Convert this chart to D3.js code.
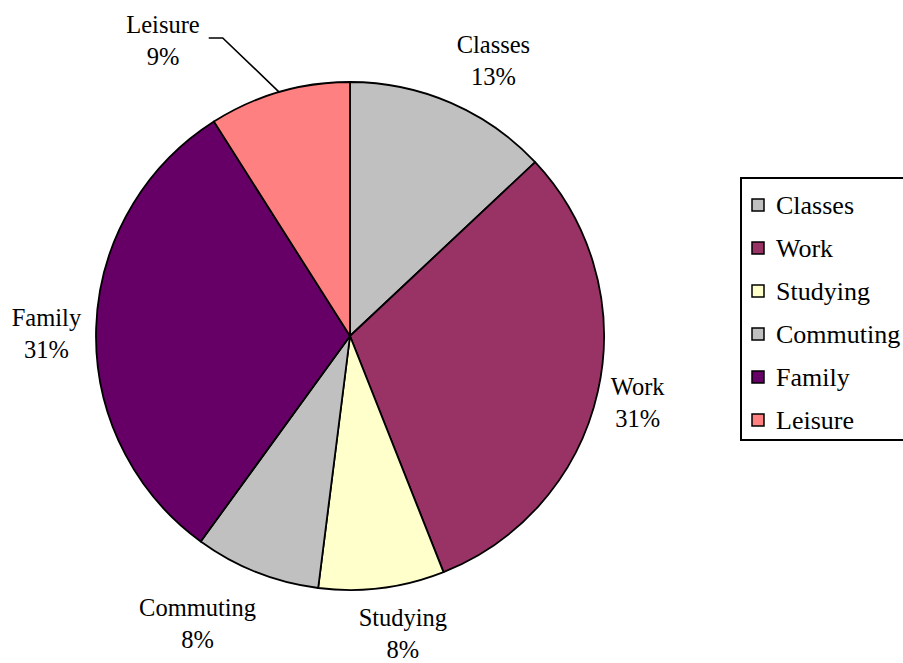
<!DOCTYPE html>
<html>
<head>
<meta charset="utf-8">
<script src="https://cdn.jsdelivr.net/npm/d3@7"></script>
</head>
<body style="margin:0">
<svg id="s" width="903" height="663"></svg>
<script>
// ---- data ----
const categories = ["Classes", "Work", "Studying", "Commuting", "Family", "Leisure"];
const values = [13, 31, 8, 8, 31, 9];
const colors = ["#C0C0C0", "#993366", "#FFFFCC", "#C0C0C0", "#660066", "#FF8080"];

// ---- layout ----
const cx = 350, cy = 336, R = 254;
const FONT = "\"Liberation Serif\"";
const labelFont = 24.5, lineGap = 32;
const legendFont = 26;

const svg = d3.select("#s");
const data = categories.map((c, i) => ({ name: c, value: values[i], color: colors[i] }));
const total = d3.sum(values);

const pie = d3.pie().value(d => d.value).sort(null);
const arcs = pie(data);
const arc = d3.arc().innerRadius(0).outerRadius(R);

const g = svg.append("g").attr("transform", `translate(${cx},${cy})`);
g.selectAll("path.slice")
  .data(arcs)
  .enter().append("path")
  .attr("class", "slice")
  .attr("d", arc)
  .attr("fill", d => d.data.color)
  .attr("stroke", "#000")
  .attr("stroke-width", 1.8)
  .attr("stroke-linejoin", "round");

// label placement: anchor just outside the rim, then shift by half the text box
const nudges = {
  Classes: [20, 4], Work: [-6, 0], Studying: [13, -5],
  Commuting: [-30, 4], Family: [5, 7]
};
function textW(s) {
  const m = svg.append("text").attr("font-size", labelFont).style("font-family", FONT, "important").text(s);
  const w = m.node().getComputedTextLength();
  m.remove();
  return w;
}

arcs.forEach(d => {
  const a = (d.startAngle + d.endAngle) / 2;
  const pct = Math.round(d.data.value / total * 100) + "%";
  const lines = [d.data.name, pct];
  let x, y;
  if (d.data.name === "Leisure") {
    const ex = Math.sin(a) * R, ey = -Math.cos(a) * R;
    const lx = 163 - cx, ly = 40 - cy;
    const w = textW(d.data.name);
    const bendY = ly - 2;
    const hx0 = lx + w / 2 + 9, hx1 = hx0 + 14;
    g.append("path")
      .attr("d", `M${hx0},${bendY}L${hx1},${bendY}L${ex},${ey}`)
      .attr("fill", "none").attr("stroke", "#000").attr("stroke-width", 1.6);
    x = lx; y = ly;
  } else {
    const w = d3.max(lines, textW);
    const h = 62;
    const px = Math.sin(a) * (R + 20), py = -Math.cos(a) * (R + 20);
    const n = nudges[d.data.name] || [0, 0];
    x = px + Math.sin(a) * w / 2 + n[0];
    y = py - Math.cos(a) * h / 2 + n[1];
  }
  lines.forEach((s, i) => {
    g.append("text")
      .attr("x", x)
      .attr("y", y + (i - 0.5) * lineGap)
      .attr("dy", "0.35em")
      .attr("text-anchor", "middle")
      .attr("font-size", labelFont)
      .attr("fill", "#000")
      .style("font-family", FONT, "important")
      .text(s);
  });
});

// ---- legend ----
const lx = 741, ly = 178, lh = 262, step = 43;
const legend = svg.append("g");
legend.append("rect")
  .attr("x", lx).attr("y", ly)
  .attr("width", 200).attr("height", lh)
  .attr("fill", "#fff").attr("stroke", "#000").attr("stroke-width", 2);
const items = legend.selectAll("g.item")
  .data(data)
  .enter().append("g")
  .attr("class", "item")
  .attr("transform", (d, i) => `translate(${lx}, ${ly + 27 + i * step})`);
items.append("rect")
  .attr("x", 11).attr("y", -6)
  .attr("width", 12).attr("height", 12)
  .attr("fill", d => d.color)
  .attr("stroke", "#000").attr("stroke-width", 1.5);
items.append("text")
  .attr("x", 35).attr("y", 0).attr("dy", "0.35em")
  .attr("font-size", legendFont)
  .attr("fill", "#000")
  .style("font-family", FONT, "important")
  .text(d => d.name);
</script>
</body>
</html>
